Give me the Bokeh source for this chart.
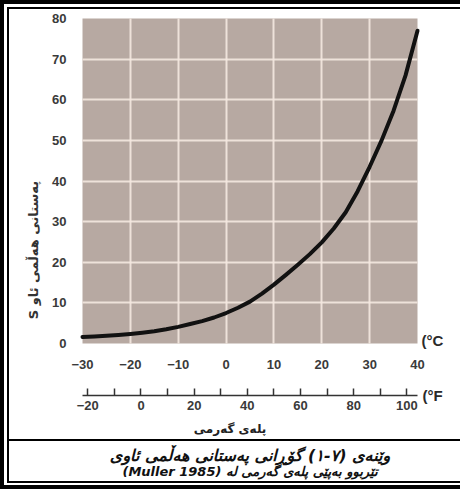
import math
from bokeh.plotting import figure
from bokeh.models import Range1d, LinearAxis, FixedTicker, Label, Grid, BoxAnnotation
from bokeh.layouts import column
from bokeh.embed import file_html
from bokeh.resources import INLINE

# ---- data ----
temp_c = [-30, -27.5, -25, -22.5, -20, -17.5, -15, -12.5, -10, -7.5, -5, -2.5,
          0, 2.5, 5, 7.5, 10, 12.5, 15, 17.5, 20, 22.5, 25, 27.5, 30, 32.5, 35, 37.5, 40]
vapour_pressure = [1.6, 1.75, 1.9, 2.1, 2.35, 2.65, 3.0, 3.5, 4.1, 4.8, 5.5, 6.4,
                   7.5, 8.8, 10.3, 12.3, 14.5, 16.9, 19.4, 22.0, 24.9, 28.3, 32.3, 37.5,
                   43.5, 50.0, 57.3, 66.0, 77.0]
c_ticks = [-30, -20, -10, 0, 10, 20, 30, 40]
s_ticks = [0, 10, 20, 30, 40, 50, 60, 70, 80]
f_major = [-20, 0, 20, 40, 60, 80, 100]
f_minor = [-10, 10, 30, 50, 70, 90]
c_lo, c_hi = -30, 40
s_lo, s_hi = 0, 80

y_title = "S پەستانی هەڵمی ئاو"
x_title = "پلەی گەرمی"
c_unit = "(°C"
f_unit = "(°F"
caption1 = "وێنەی (٧-١) گۆڕانی پەستانی هەڵمی ئاوی"
caption2 = "(Muller 1985) تێربوو بەپێی پلەی گەرمی لە"


def c_to_f(c):
    return c * 9 / 5 + 32


NUM_FONT = "Liberation Sans"
AR_FONT = "DejaVu Sans"

# ---- layout (pixels inside the chart figure) ----
W, H = 451, 430
CAP_H = 42
data_left, data_right = 73, 408
data_top, data_bottom = 9, 334
f_axis_gap = 52        # px below the data area
x_title_gap = 85       # px below the data area
kx = (data_right - data_left) / (c_hi - c_lo)
ky = (data_bottom - data_top) / (s_hi - s_lo)
x_start = c_lo - data_left / kx
x_end = c_hi + (W - data_right) / kx
y_start = s_lo - (H - data_bottom) / ky
y_end = s_hi + data_top / ky

p = figure(width=W, height=H, x_range=Range1d(x_start, x_end), y_range=Range1d(y_start, y_end),
           output_backend="svg", toolbar_location=None,
           x_axis_type=None, y_axis_type=None,
           min_border=0, min_border_left=0, min_border_right=0,
           min_border_top=0, min_border_bottom=0,
           background_fill_color="white", border_fill_color="white",
           outline_line_color=None)

# plot background
p.add_layout(BoxAnnotation(left=c_lo, right=c_hi, bottom=s_lo, top=s_hi,
                           fill_color="#b7a9a2", fill_alpha=1.0, line_color=None,
                           level="image"))

# grid lines (limited to the data area)
GRID_COLOR = "#f4e8e0"
if "cross_bounds" in Grid.properties():
    gx = Grid(dimension=0, ticker=FixedTicker(ticks=c_ticks[1:-1]), cross_bounds=(s_lo, s_hi),
              grid_line_color=GRID_COLOR, grid_line_width=2, grid_line_alpha=0.9)
    gy = Grid(dimension=1, ticker=FixedTicker(ticks=s_ticks[1:-1]), cross_bounds=(c_lo, c_hi),
              grid_line_color=GRID_COLOR, grid_line_width=2, grid_line_alpha=0.9)
    p.add_layout(gx)
    p.add_layout(gy)
else:
    xs = c_ticks[1:-1]
    ys = s_ticks[1:-1]
    p.segment(x0=xs, x1=xs, y0=[s_lo] * len(xs), y1=[s_hi] * len(xs),
              line_color=GRID_COLOR, line_width=2, line_alpha=0.9, level="underlay")
    p.segment(x0=[c_lo] * len(ys), x1=[c_hi] * len(ys), y0=ys, y1=ys,
              line_color=GRID_COLOR, line_width=2, line_alpha=0.9, level="underlay")


def style_labels(ax):
    ax.major_label_text_font = NUM_FONT
    ax.major_label_text_font_size = "13px"
    ax.major_label_text_font_style = "bold"
    ax.major_label_text_color = "#3a3a3a"


# y axis (S)
ya = LinearAxis(ticker=FixedTicker(ticks=s_ticks), fixed_location=c_lo, bounds=(s_lo, s_hi))
ya.axis_line_color = None
ya.major_tick_line_color = None
ya.minor_tick_line_color = None
ya.major_label_standoff = 10
style_labels(ya)
p.add_layout(ya, "left")

# celsius axis
xa = LinearAxis(ticker=FixedTicker(ticks=c_ticks), fixed_location=s_lo, bounds=(c_lo, c_hi))
xa.axis_line_color = None
xa.major_tick_line_color = None
xa.minor_tick_line_color = None
xa.major_label_standoff = 10
style_labels(xa)
p.add_layout(xa, "below")

# fahrenheit axis
p.extra_x_ranges = {"F": Range1d(c_to_f(x_start), c_to_f(x_end))}
f_axis_y = s_lo - f_axis_gap / ky
fa = LinearAxis(x_range_name="F", ticker=FixedTicker(ticks=f_major, minor_ticks=f_minor),
                fixed_location=f_axis_y, bounds=(c_to_f(c_lo), c_to_f(c_hi)))
fa.axis_line_color = "#333333"
fa.axis_line_width = 1.5
fa.major_tick_in = 7
fa.major_tick_out = 0
fa.minor_tick_in = 7
fa.minor_tick_out = 0
fa.major_tick_line_color = "#333333"
fa.minor_tick_line_color = "#333333"
fa.major_tick_line_width = 1.5
fa.minor_tick_line_width = 1.5
fa.major_label_standoff = 5
style_labels(fa)
p.add_layout(fa, "below")

# curve
p.line(temp_c, vapour_pressure, line_color="#111111", line_width=4, line_cap="round",
       line_join="round")

# text annotations
p.add_layout(Label(x=c_hi, y=s_lo + 3 / ky, x_offset=4, text=c_unit, text_font=NUM_FONT,
                   text_font_size="15px", text_font_style="bold", text_color="#2a2a2a",
                   text_baseline="middle", text_align="left"))
p.add_layout(Label(x=c_hi, y=f_axis_y, x_offset=5, text=f_unit, text_font=NUM_FONT,
                   text_font_size="15px", text_font_style="bold", text_color="#2a2a2a",
                   text_baseline="middle", text_align="left"))
p.add_layout(Label(x=(c_lo + c_hi) / 2, x_offset=-20, y=s_lo - x_title_gap / ky, text=x_title,
                   text_font=AR_FONT, text_font_size="12px", text_font_style="bold",
                   text_color="#222222", text_baseline="middle", text_align="center"))
p.add_layout(Label(x=c_lo, y=23, x_offset=-49, angle=math.pi / 2, text=y_title,
                   text_font=AR_FONT, text_font_size="13px", text_font_style="bold",
                   text_color="#333333", text_baseline="middle", text_align="center"))

# caption
cap = figure(width=W, height=CAP_H, x_range=Range1d(0, 1), y_range=Range1d(0, 1),
             output_backend="svg", toolbar_location=None, min_border=0,
             x_axis_type=None, y_axis_type=None, outline_line_color=None,
             border_fill_color="white", background_fill_color="white",
             styles={"border-top": "2px solid black"})
cap_x = (data_left + data_right) / 2 / W
cap.add_layout(Label(x=cap_x, y=1 - 14 / CAP_H, text=caption1, text_font=AR_FONT,
                     text_font_size="16px", text_font_style="bold italic",
                     text_color="#111111", text_baseline="middle", text_align="center"))
cap.add_layout(Label(x=cap_x, y=12 / CAP_H, text=caption2, text_font=AR_FONT,
                     text_font_size="13px", text_font_style="bold italic",
                     text_color="#111111", text_baseline="middle", text_align="center"))

inner = column(p, cap, styles={"border-left": "2px solid black",
                               "border-top": "2px solid black",
                               "border-bottom": "2px solid black"})
outer = column(inner, styles={"border-left": "4px solid black",
                              "border-top": "4px solid black",
                              "border-bottom": "4px solid black",
                              "padding": "3px 0px 2px 3px"})

open("out.html", "w").write(file_html(outer, INLINE))
